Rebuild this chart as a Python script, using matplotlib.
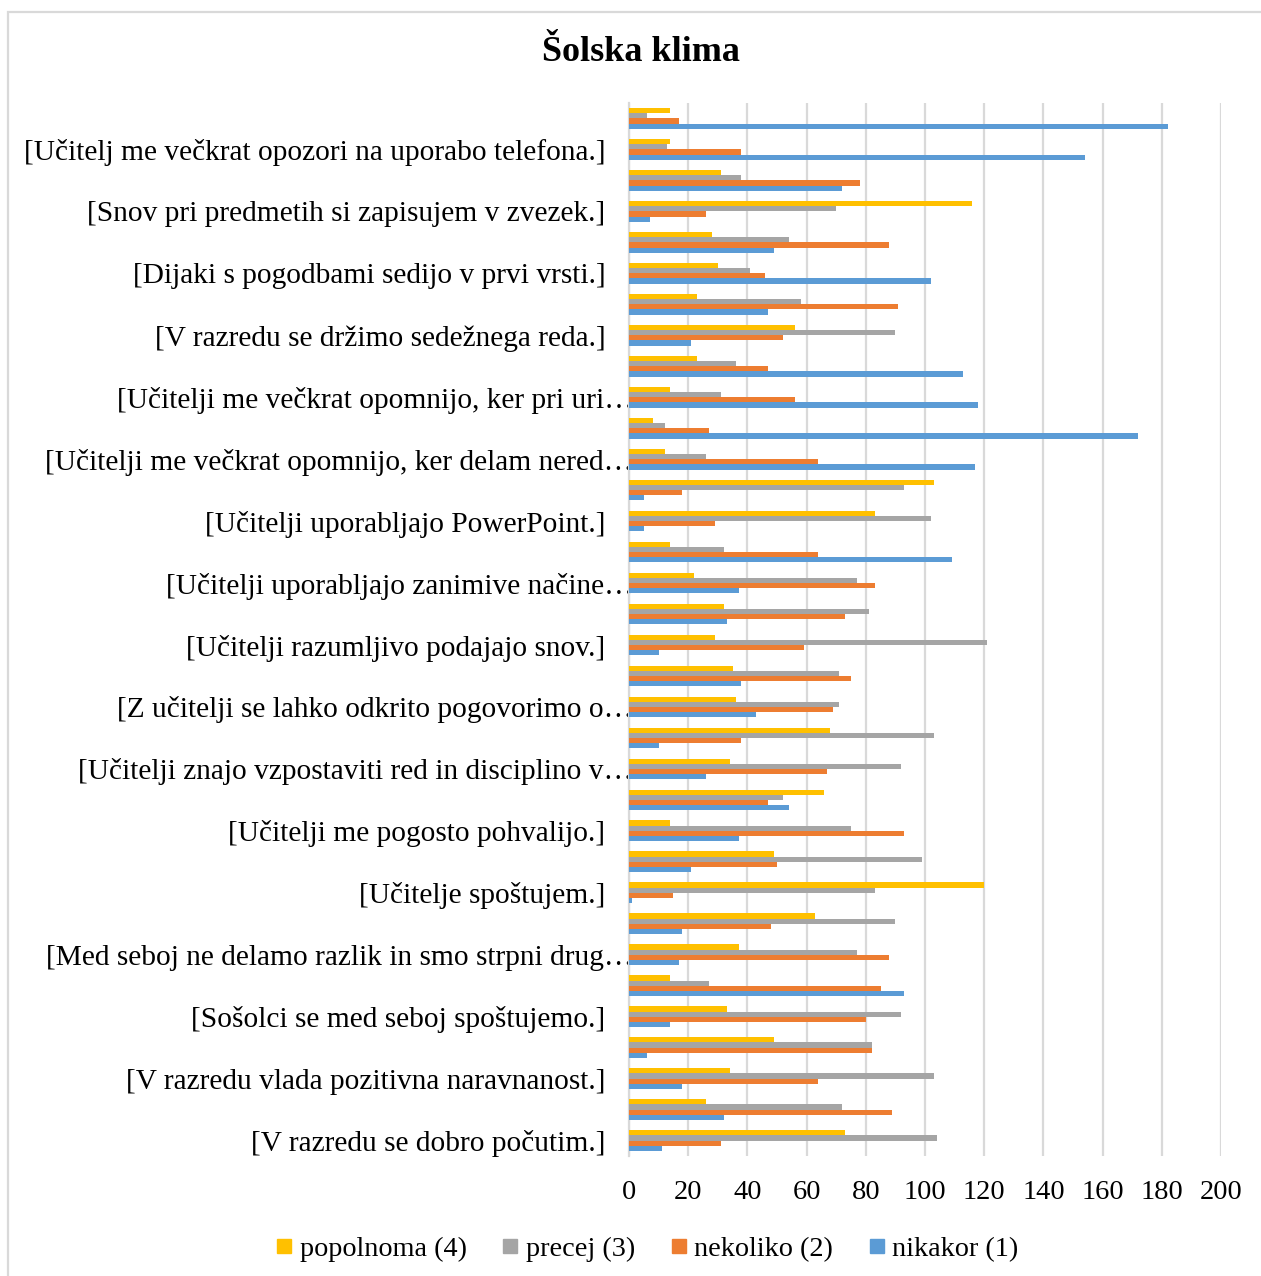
import numpy as np
import matplotlib
matplotlib.use("Agg")
import matplotlib.pyplot as plt
from matplotlib.patches import Rectangle
from matplotlib.lines import Line2D
from matplotlib.transforms import ScaledTranslation

# kategorije od zgoraj navzdol (prazne niso izpisane na grafu)
kategorije = [
    "",
    "[Učitelj me večkrat opozori na uporabo telefona.]",
    "",
    "[Snov pri predmetih si zapisujem v zvezek.]",
    "",
    "[Dijaki s pogodbami sedijo v prvi vrsti.]",
    "",
    "[V razredu se držimo sedežnega reda.]",
    "",
    "[Učitelji me večkrat opomnijo, ker pri uri…",
    "",
    "[Učitelji me večkrat opomnijo, ker delam nered…",
    "",
    "[Učitelji uporabljajo PowerPoint.]",
    "",
    "[Učitelji uporabljajo zanimive načine…",
    "",
    "[Učitelji razumljivo podajajo snov.]",
    "",
    "[Z učitelji se lahko odkrito pogovorimo o…",
    "",
    "[Učitelji znajo vzpostaviti red in disciplino v…",
    "",
    "[Učitelji me pogosto pohvalijo.]",
    "",
    "[Učitelje spoštujem.]",
    "",
    "[Med seboj ne delamo razlik in smo strpni drug…",
    "",
    "[Sošolci se med seboj spoštujemo.]",
    "",
    "[V razredu vlada pozitivna naravnanost.]",
    "",
    "[V razredu se dobro počutim.]",
]

popolnoma = [14, 14, 31, 116, 28, 30, 23, 56, 23, 14, 8, 12, 103, 83, 14, 22, 32,
             29, 35, 36, 68, 34, 66, 14, 49, 120, 63, 37, 14, 33, 49, 34, 26, 73]
precej = [6, 13, 38, 70, 54, 41, 58, 90, 36, 31, 12, 26, 93, 102, 32, 77, 81,
          121, 71, 71, 103, 92, 52, 75, 99, 83, 90, 77, 27, 92, 82, 103, 72, 104]
nekoliko = [17, 38, 78, 26, 88, 46, 91, 52, 47, 56, 27, 64, 18, 29, 64, 83, 73,
            59, 75, 69, 38, 67, 47, 93, 50, 15, 48, 88, 85, 80, 82, 64, 89, 31]
nikakor = [182, 154, 72, 7, 49, 102, 47, 21, 113, 118, 172, 117, 5, 5, 109, 37, 33,
           10, 38, 43, 10, 26, 54, 37, 21, 1, 18, 17, 93, 14, 6, 18, 32, 11]

serije = ["popolnoma (4)", "precej (3)", "nekoliko (2)", "nikakor (1)"]
barve = ["#FFC000", "#A5A5A5", "#ED7D31", "#5B9BD5"]

plt.rcParams['font.family'] = ['Liberation Serif', 'DejaVu Serif']

fig = plt.figure(figsize=(12.61, 12.76), dpi=100)
ax = fig.add_axes([0.4988, 0.094, 0.4695, 0.8253])

y = np.arange(len(kategorije))
h = 0.167  # visina enega stolpca
podatki = [popolnoma, precej, nekoliko, nikakor]
for i, (vrednosti, barva) in enumerate(zip(podatki, barve)):
    ax.barh(y + (i - 1.5) * h, vrednosti, height=h, color=barva, zorder=3)

ax.set_xlim(0, 200)
ax.set_ylim(len(kategorije) - 0.5, -0.5)
ax.set_xticks(range(0, 201, 20))
ax.tick_params(axis='x', length=0, labelsize=20.5, pad=17)
ax.tick_params(axis='y', length=0, labelsize=21.2, pad=17)
ax.grid(axis='x', color='#D9D9D9', lw=1.6, zorder=0)

# izpisem samo vsako drugo oznako
oznake = [(k, t) for k, t in enumerate(kategorije) if t]
ax.set_yticks([k for k, _ in oznake])
ax.set_yticklabels([t for _, t in oznake])
for lab in ax.get_yticklabels():
    if lab.get_text().endswith("…"):
        lab.set_transform(lab.get_transform() + ScaledTranslation(0.28, 0, fig.dpi_scale_trans))

for s in ['top', 'right', 'bottom']:
    ax.spines[s].set_visible(False)
ax.spines['left'].set_color('#D9D9D9')
ax.spines['left'].set_linewidth(1.6)

fig.text(0.508, 0.959, "Šolska klima", ha='center', va='center', fontsize=26, fontweight='bold')

# legenda
rocke = [Line2D([], [], marker='s', ls='', color=b, markersize=9.5) for b in barve]
fig.legend(rocke, serije, loc='center', bbox_to_anchor=(0.511, 0.021), ncol=4,
           frameon=False, fontsize=20.3, handletextpad=0.05, columnspacing=1.05, handlelength=1.0)

# okvir grafa
fig.patches.append(Rectangle((8 / 1261, -0.01), 1.1, 1264 / 1276 + 0.01, transform=fig.transFigure,
                             fill=False, ec='#D9D9D9', lw=1.6))

fig.savefig("out.png", dpi=100)
